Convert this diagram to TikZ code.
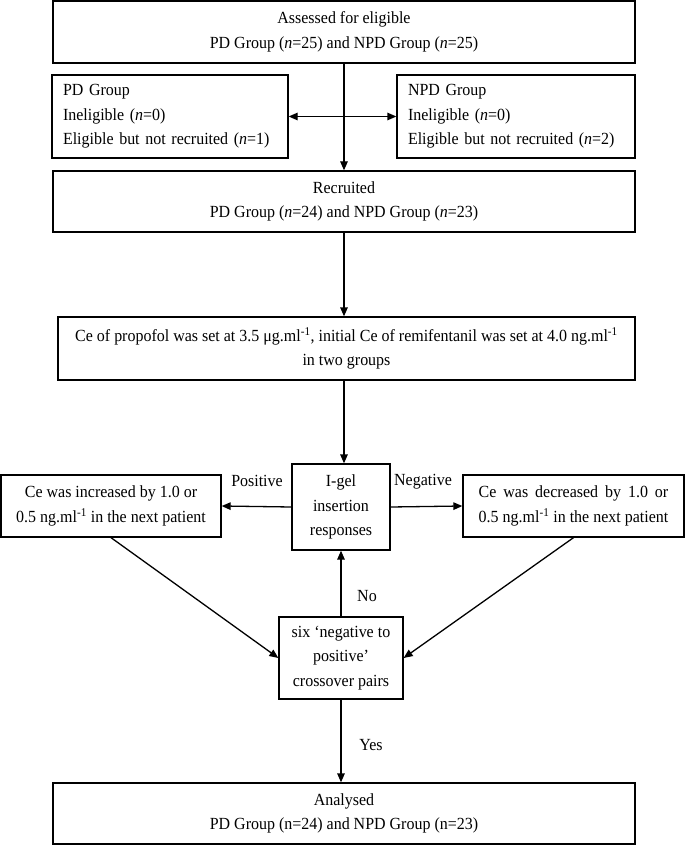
\documentclass[tikz,border=0pt]{standalone}
\usepackage{fontspec}
\setmainfont[FakeStretch=0.94]{Liberation Serif}
\usetikzlibrary{arrows.meta}
\newlength\rwid
\begin{document}
\begin{tikzpicture}[x=1pt,y=-1pt,
  box/.style={draw,line width=1.3pt,inner sep=0pt,align=center,
    font=\fontsize{17}{24.5}\selectfont},
  lbl/.style={inner sep=0pt,font=\fontsize{17}{24.5}\selectfont},
  arr/.style={line width=1.3pt,-{Triangle[length=9pt,width=7.5pt]}},
  arrb/.style={line width=1.3pt,{Triangle[length=9pt,width=7.5pt]}-{Triangle[length=9pt,width=7.5pt]}}]
\useasboundingbox (0,0) rectangle (685,845);
\node[box,minimum width=582pt,minimum height=62pt] (top) at (344,32)
  {Assessed for eligible\\PD Group (\textit{n}=25) and NPD Group (\textit{n}=25)};
\node[box,minimum width=236pt,minimum height=83pt,align=left,text width=214pt,inner xsep=11pt] (pdl) at (170,116.5)
  {PD Group\\Ineligible (\textit{n}=0)\\Eligible but not recruited (\textit{n}=1)};
\node[box,minimum width=238pt,minimum height=83pt,align=left,text width=216pt,inner xsep=11pt] (npd) at (516,116.5)
  {NPD Group\\Ineligible (\textit{n}=0)\\Eligible but not recruited (\textit{n}=2)};
\node[box,minimum width=582pt,minimum height=61pt] (rec) at (344,201.5)
  {Recruited\\PD Group (\textit{n}=24) and NPD Group (\textit{n}=23)};
\node[box,minimum width=577pt,minimum height=63pt] (prop) at (346.5,348.5)
  {Ce of propofol was set at 3.5 μg.ml\textsuperscript{-1}, initial Ce of remifentanil was set at 4.0 ng.ml\textsuperscript{-1}\\in two groups};
\node[box,minimum width=98pt,minimum height=86pt] (igel) at (341,507)
  {I-gel\\insertion\\responses};
\node[box,minimum width=220pt,minimum height=62pt] (inc) at (111,506)
  {Ce was increased by 1.0 or\\0.5 ng.ml\textsuperscript{-1} in the next patient};
\node[box,minimum width=221pt,minimum height=62pt,align=left] (dec) at (573.5,506)
  {\settowidth\rwid{0.5 ng.ml\textsuperscript{-1} in the next patient}\makebox[\rwid][s]{Ce was decreased by 1.0 or}\\0.5 ng.ml\textsuperscript{-1} in the next patient};
\node[box,minimum width=124pt,minimum height=82pt] (six) at (341,658)
  {six `negative to\\positive'\\crossover pairs};
\node[box,minimum width=582pt,minimum height=61pt] (ana) at (344,813.5)
  {Analysed\\PD Group (n=24) and NPD Group (n=23)};
\draw[arr] (top.south) -- (rec.north);
\draw[arrb] (pdl.east) -- (npd.west);
\draw[arr] (rec.south) -- (rec.south |- prop.north);
\draw[arr] (rec.south |- prop.south) -- (rec.south |- igel.north);
\draw[arr] (igel.west) -- (inc.east);
\draw[arr] (igel.east) -- (dec.west);
\draw[arr] (six.north) -- (igel.south);
\draw[arr] (inc.south) -- (six.west);
\draw[arr] (dec.south) -- (six.east);
\draw[arr] (six.south) -- (six.south |- ana.north);
\node[lbl] (pos) at (257,481) {Positive};
\node[lbl] (neg) at (423,482) {Negative};
\node[lbl] (no) at (367,596) {No};
\node[lbl] (yes) at (371,745) {Yes};
\end{tikzpicture}
\end{document}
